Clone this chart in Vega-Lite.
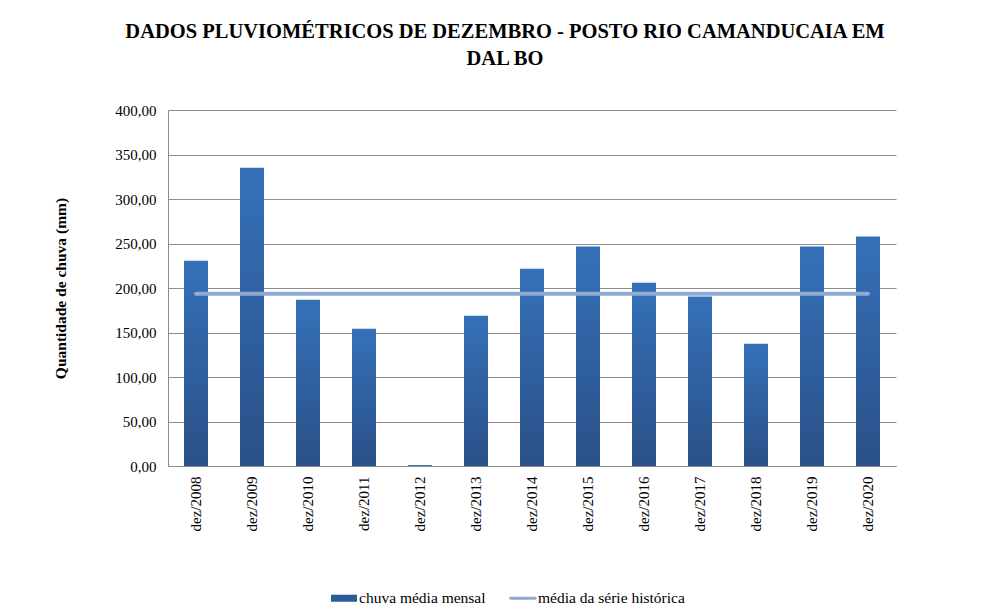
{
  "$schema": "https://vega.github.io/schema/vega-lite/v6.json",
  "width": 728,
  "height": 356,
  "padding": {"left": 53, "top": 21, "right": 5, "bottom": 5},
  "background": "white",
  "config": {
    "font": "Liberation Serif",
    "axis": {"labelFont": "Liberation Serif", "titleFont": "Liberation Serif"},
    "legend": {"labelFont": "Liberation Serif", "titleFont": "Liberation Serif"},
    "title": {"font": "Liberation Serif"},
    "view": {"stroke": null}
  },
  "title": {
    "text": ["DADOS PLUVIOMÉTRICOS DE DEZEMBRO - POSTO RIO CAMANDUCAIA EM", "DAL BO"],
    "font": "Liberation Serif",
    "fontSize": 20.5,
    "fontWeight": "bold",
    "lineHeight": 27,
    "color": "black",
    "dx": -27,
    "offset": 34
  },
  "data": {
    "values": [
      {"mes": "dez/2008", "chuva": 230.5, "media": 193.5},
      {"mes": "dez/2009", "chuva": 335.0, "media": 193.5},
      {"mes": "dez/2010", "chuva": 186.7, "media": 193.5},
      {"mes": "dez/2011", "chuva": 154.2, "media": 193.5},
      {"mes": "dez/2012", "chuva": 1.0, "media": 193.5},
      {"mes": "dez/2013", "chuva": 168.8, "media": 193.5},
      {"mes": "dez/2014", "chuva": 221.5, "media": 193.5},
      {"mes": "dez/2015", "chuva": 246.6, "media": 193.5},
      {"mes": "dez/2016", "chuva": 205.8, "media": 193.5},
      {"mes": "dez/2017", "chuva": 190.5, "media": 193.5},
      {"mes": "dez/2018", "chuva": 137.4, "media": 193.5},
      {"mes": "dez/2019", "chuva": 246.6, "media": 193.5},
      {"mes": "dez/2020", "chuva": 257.8, "media": 193.5}
    ]
  },
  "layer": [
    {
      "mark": {
        "type": "bar",
        "size": 24,
        "fill": {
          "gradient": "linear",
          "x1": 0, "y1": 0, "x2": 0, "y2": 1,
          "stops": [
            {"offset": 0, "color": "#3571b8"},
            {"offset": 1, "color": "#2a5088"}
          ]
        }
      },
      "encoding": {
        "x": {
          "field": "mes",
          "type": "nominal",
          "sort": null,
          "title": null,
          "axis": {
            "labelAngle": -90,
            "labelAlign": "right",
            "labelBaseline": "middle",
            "labelFont": "Liberation Serif",
            "labelFontSize": 15,
            "labelColor": "black",
            "labelPadding": 10,
            "ticks": false,
            "domainColor": "#8c8c8c",
            "domainWidth": 1
          }
        },
        "y": {
          "field": "chuva",
          "type": "quantitative",
          "scale": {"domain": [0, 400]},
          "title": "Quantidade de chuva (mm)",
          "axis": {
            "values": [0, 50, 100, 150, 200, 250, 300, 350, 400],
            "labelExpr": "replace(format(datum.value, '.2f'), '.', ',')",
            "labelFont": "Liberation Serif",
            "labelFontSize": 15,
            "labelColor": "black",
            "labelPadding": 12,
            "ticks": false,
            "domainColor": "#8c8c8c",
            "gridColor": "#8c8c8c",
            "gridWidth": 1,
            "titleFont": "Liberation Serif",
            "titleFontSize": 15.5,
            "titleFontWeight": "bold",
            "titleColor": "black",
            "titlePadding": 46
          }
        }
      }
    },
    {
      "mark": {"type": "line", "strokeWidth": 4, "strokeCap": "round"},
      "encoding": {
        "x": {"field": "mes", "type": "nominal", "sort": null},
        "y": {"field": "media", "type": "quantitative"},
        "color": {
          "datum": "média da série histórica",
          "scale": {
            "domain": ["chuva média mensal", "média da série histórica"],
            "range": ["#2c5a95", "#8eaad3"]
          },
          "legend": {
            "title": null,
            "orient": "none",
            "direction": "horizontal",
            "legendX": 163,
            "legendY": 475,
            "symbolSize": 676,
            "labelFont": "Liberation Serif",
            "labelFontSize": 15.5,
            "labelColor": "black",
            "labelOffset": 2,
            "columnPadding": 23,
            "symbolOffset": 0,
            "encode": {
              "symbols": {
                "update": {
                  "shape": {"signal": "datum.value == 'chuva média mensal' ? 'M-1,-0.27H1V0.27H-1Z' : 'M-0.95,-0.11H0.95A0.11,0.11,0,0,1,0.95,0.11H-0.95A0.11,0.11,0,0,1,-0.95,-0.11Z'"},
                  "fill": {"signal": "datum.value == 'chuva média mensal' ? '#2c5a95' : '#8eaad3'"},
                  "stroke": {"signal": "datum.value == 'chuva média mensal' ? '#2c5a95' : '#8eaad3'"},
                  "strokeWidth": {"value": 0},
                  "opacity": {"value": 1}
                }
              }
            }
          }
        }
      }
    }
  ]
}
